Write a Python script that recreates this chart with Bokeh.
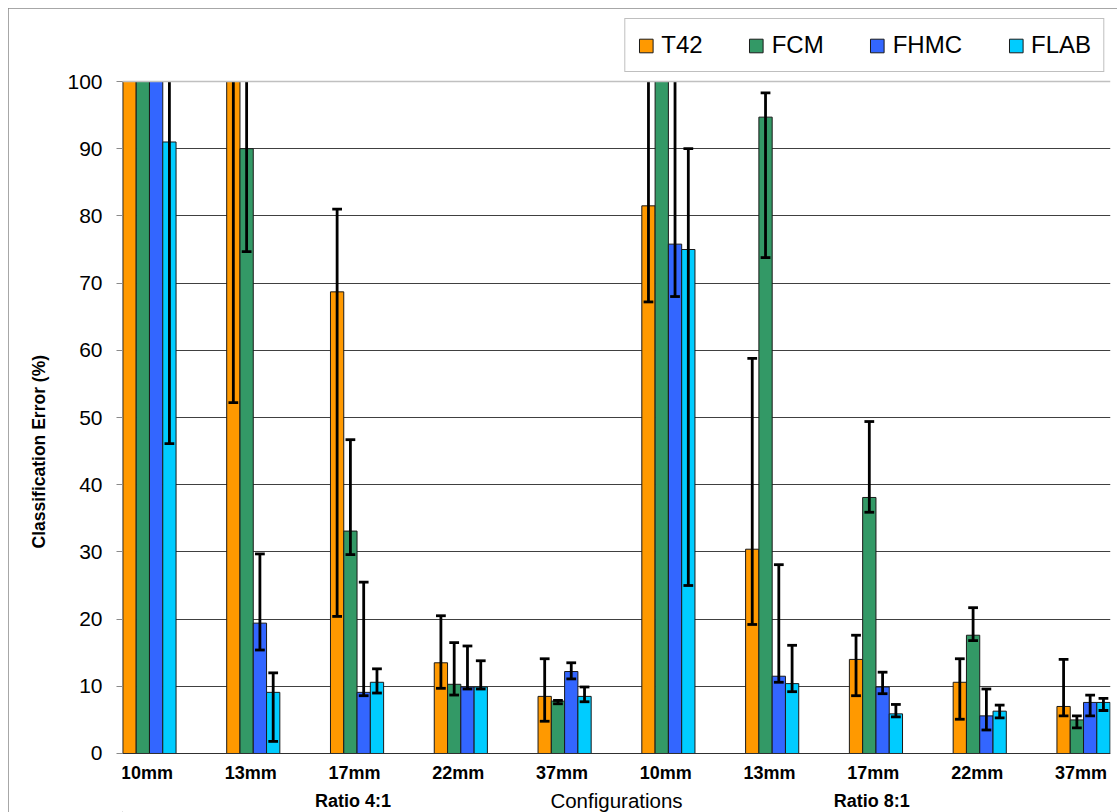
import math
import numpy as np
from bokeh.plotting import figure
from bokeh.models import FixedTicker, Legend, LegendItem, Label, Span, Range1d, Title
from bokeh.core.properties import value
from bokeh.embed import file_html
from bokeh.resources import INLINE

# ---------------- data ----------------
categories = ["10mm", "13mm", "17mm", "22mm", "37mm",
              "10mm", "13mm", "17mm", "22mm", "37mm"]
ratio_groups = ["Ratio 4:1", "Ratio 8:1"]
ratio_of_category = [0, 0, 0, 0, 0, 1, 1, 1, 1, 1]
x_title = "Configurations"
y_title = "Classification Error (%)"
series = ["T42", "FCM", "FHMC", "FLAB"]
y_ticks = [0, 10, 20, 30, 40, 50, 60, 70, 80, 90, 100]
y_max = 100

nan = float("nan")
t42 = [100, 100, 68.7, 13.5, 8.5, 81.5, 30.4, 14.0, 10.6, 7.0]
fcm = [100, 90.0, 33.1, 10.3, 7.8, 100, 94.7, 38.1, 17.6, 5.0]
fhmc = [100, 19.4, 9.1, 9.9, 12.2, 75.8, 11.5, 9.9, 5.6, 7.6]
flab = [91.0, 9.1, 10.6, 9.9, 8.5, 75.0, 10.4, 5.9, 6.3, 7.6]

t42_lo = [nan, 52.2, 20.4, 9.7, 4.8, 67.2, 19.2, 8.6, 5.1, 5.6]
t42_hi = [nan, 100, 81.0, 20.5, 14.1, 100, 58.8, 17.6, 14.1, 14.0]
fcm_lo = [nan, 74.7, 29.6, 8.7, 7.4, nan, 73.8, 35.9, 16.8, 3.8]
fcm_hi = [nan, 100, 46.7, 16.5, 7.9, nan, 98.3, 49.4, 21.7, 5.6]
fhmc_lo = [nan, 15.4, 8.6, 9.6, 11.1, 68.0, 10.6, 8.9, 3.5, 5.6]
fhmc_hi = [nan, 29.7, 25.5, 16.0, 13.5, 100, 28.1, 12.1, 9.6, 8.7]
flab_lo = [46.1, 1.8, 9.0, 9.6, 7.7, 25.0, 9.2, 5.45, 5.3, 6.4]
flab_hi = [100, 12.0, 12.6, 13.8, 9.9, 90.0, 16.1, 7.3, 7.2, 8.2]

values = [t42, fcm, fhmc, flab]
lows = [t42_lo, fcm_lo, fhmc_lo, flab_lo]
highs = [t42_hi, fcm_hi, fhmc_hi, flab_hi]

# ---------------- style ----------------
colors = ["#FF9900", "#339966", "#3366FF", "#00CCFF"]
FONT = "Liberation Sans"
bar_w = 0.128
cap_half = 0.047
x_lo, x_hi = -0.26, 9.26

p = figure(width=1109, height=804, output_backend="svg", toolbar_location=None,
           x_range=Range1d(x_lo, x_hi), y_range=Range1d(-8.78, 110.27),
           min_border_left=114, min_border_right=7, min_border_top=4,
           min_border_bottom=0)
p.styles = {"margin-left": "8px", "margin-top": "8px",
            "outline": "1px solid #8a8a8a", "outline-offset": "-1px"}
p.outline_line_color = None
p.background_fill_color = "white"
p.border_fill_color = "white"

x = np.arange(len(categories))
offsets = [-1.5, -0.5, 0.5, 1.5]
renderers = []
for i, s in enumerate(series):
    xs = x + offsets[i] * bar_w
    r = p.vbar(x=xs, top=values[i], bottom=0, width=bar_w,
               fill_color=colors[i], line_color="#1a1a1a", line_width=1)
    renderers.append(r)

# error bars
seg_x0, seg_y0, seg_x1, seg_y1 = [], [], [], []
for i, s in enumerate(series):
    xs = x + offsets[i] * bar_w
    for j in range(len(categories)):
        lo, hi = lows[i][j], highs[i][j]
        if math.isnan(lo):
            continue
        top = min(hi, y_max)
        seg_x0.append(xs[j]); seg_y0.append(lo); seg_x1.append(xs[j]); seg_y1.append(top)
        seg_x0.append(xs[j] - cap_half); seg_y0.append(lo)
        seg_x1.append(xs[j] + cap_half); seg_y1.append(lo)
        if hi < y_max:
            seg_x0.append(xs[j] - cap_half); seg_y0.append(hi)
            seg_x1.append(xs[j] + cap_half); seg_y1.append(hi)
p.segment(x0=seg_x0, y0=seg_y0, x1=seg_x1, y1=seg_y1, line_color="black",
          line_width=2.8)

# grid
p.xgrid.visible = False
p.ygrid.ticker = FixedTicker(ticks=y_ticks[1:-1])
p.ygrid.grid_line_color = "#404040"
p.ygrid.grid_line_width = 1
p.add_layout(Span(location=y_max, dimension="width", line_color="#c0c0c0",
                  line_width=1.5))
# category axis line at zero
p.add_layout(Span(location=0, dimension="width", line_color="#303030",
                  line_width=1.2))

# y axis
p.yaxis.ticker = FixedTicker(ticks=y_ticks)
p.yaxis.bounds = (0, y_max)
p.yaxis.axis_line_color = "#8a8a8a"
p.yaxis.major_tick_line_color = "#8a8a8a"
p.yaxis.major_tick_out = 6
p.yaxis.major_tick_in = 0
p.yaxis.minor_tick_line_color = None
p.yaxis.major_label_text_font = FONT
p.yaxis.major_label_text_font_size = "21px"
p.yaxis.major_label_text_color = "black"
p.yaxis.major_label_standoff = 14

p.add_layout(Title(text=y_title, align="left", offset=264, standoff=32,
                   text_font=FONT, text_font_size="17.5px",
                   text_font_style="bold", text_color="black"), "left")

# x axis drawn as text inside the extended frame
p.xaxis.visible = False
p.text(x=x - 0.025, y=-2.83, text=categories, text_font=value(FONT),
       text_font_size="18px", text_font_style="bold", text_align="center",
       text_baseline="middle", text_color="black")

for g, name in enumerate(ratio_groups):
    idx = [j for j, rg in enumerate(ratio_of_category) if rg == g]
    cx = sum(idx) / len(idx) - 0.04
    p.add_layout(Label(x=cx, y=-7.0, text=name, text_font=FONT,
                       text_font_size="18px", text_font_style="bold",
                       text_align="center", text_baseline="middle",
                       text_color="black"))
p.add_layout(Label(x=(x_lo + x_hi) / 2, y=-7.0, text=x_title, text_font=FONT,
                   text_font_size="20.5px", text_font_style="normal",
                   text_align="center", text_baseline="middle",
                   text_color="black"))

# legend
legend = Legend(items=[LegendItem(label=s, renderers=[renderers[i]])
                       for i, s in enumerate(series)],
                orientation="horizontal", location="top_right")
legend.margin = 6
legend.padding = 12
legend.spacing = 45
legend.glyph_width = 17
legend.glyph_height = 17
legend.label_standoff = 7
legend.label_text_font = FONT
legend.label_text_font_size = "24px"
legend.label_text_color = "black"
legend.border_line_color = "#808080"
legend.border_line_width = 1
legend.background_fill_alpha = 1
p.add_layout(legend)

open("out.html", "w").write(file_html(p, INLINE))
